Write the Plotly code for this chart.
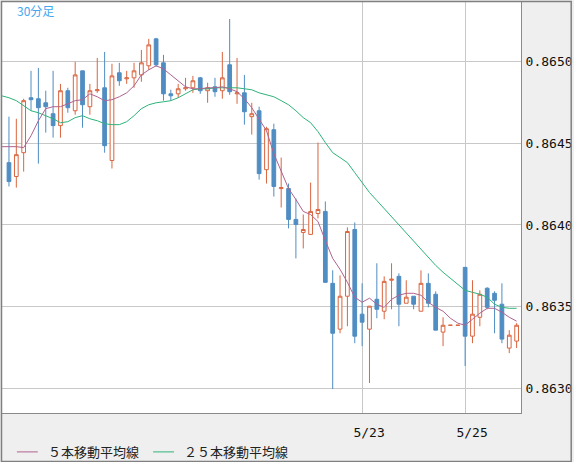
import plotly.graph_objects as go

# bar index (0 = first visible 30-minute bar)
bars = list(range(70))
ma_bars = list(range(-1, 70))

opens = [0.864382, 0.864297, 0.864443, 0.864780, 0.864774, 0.864749, 0.864682, 0.864609, 0.864823, 0.864700,
         0.864945, 0.864725, 0.864823, 0.864841, 0.864395, 0.864933, 0.864896, 0.864902, 0.864920, 0.864976,
         0.865141, 0.864994, 0.864804, 0.864804, 0.864835, 0.864841, 0.864902, 0.864823, 0.864847, 0.864823,
         0.864982, 0.864804, 0.864810, 0.864664, 0.864700, 0.864339, 0.864584, 0.864223, 0.864223, 0.864034,
         0.863954, 0.863942, 0.864070, 0.864083, 0.863642, 0.863361, 0.863563, 0.863972, 0.863453, 0.863361,
         0.863544, 0.863471, 0.863661, 0.863685, 0.863520, 0.863563, 0.863471, 0.863642, 0.863575, 0.863343,
         0.863385, 0.863385, 0.863740, 0.863318, 0.863434, 0.863612, 0.863581, 0.863514, 0.863245, 0.863288]

highs = [0.864664, 0.864651, 0.864774, 0.864945, 0.864963, 0.864823, 0.864945, 0.864865, 0.864841, 0.865000,
         0.864945, 0.864865, 0.865024, 0.865061, 0.864988, 0.864994, 0.864945, 0.864994, 0.865073, 0.865141,
         0.865147, 0.865043, 0.864829, 0.864865, 0.864902, 0.864914, 0.864908, 0.864872, 0.864902, 0.865061,
         0.865263, 0.865024, 0.864920, 0.864749, 0.864725, 0.864602, 0.864621, 0.864413, 0.864254, 0.864162,
         0.864064, 0.864260, 0.864505, 0.864144, 0.863722, 0.863691, 0.863985, 0.864015, 0.863642, 0.863502,
         0.863765, 0.863685, 0.863765, 0.863703, 0.863661, 0.863563, 0.863722, 0.863703, 0.863593, 0.863434,
         0.863385, 0.863385, 0.863740, 0.863661, 0.863599, 0.863618, 0.863593, 0.863642, 0.863355, 0.863398]

lows = [0.864236, 0.864229, 0.864327, 0.864700, 0.864376, 0.864566, 0.864535, 0.864535, 0.864688, 0.864676,
        0.864596, 0.864676, 0.864810, 0.864443, 0.864346, 0.864853, 0.864865, 0.864841, 0.864878, 0.864951,
        0.864969, 0.864762, 0.864762, 0.864780, 0.864823, 0.864810, 0.864804, 0.864749, 0.864786, 0.864774,
        0.864798, 0.864743, 0.864615, 0.864554, 0.864278, 0.864254, 0.864174, 0.864107, 0.863979, 0.863795,
        0.863856, 0.863942, 0.864040, 0.863648, 0.862994, 0.863336, 0.863379, 0.863275, 0.863257, 0.863031,
        0.863428, 0.863422, 0.863483, 0.863379, 0.863520, 0.863483, 0.863471, 0.863495, 0.863355, 0.863257,
        0.863385, 0.863385, 0.863135, 0.863275, 0.863379, 0.863483, 0.863336, 0.863275, 0.863214, 0.863245]

closes = [0.864266, 0.864431, 0.864762, 0.864768, 0.864719, 0.864725, 0.864609, 0.864823, 0.864719, 0.864920,
          0.864737, 0.864823, 0.864829, 0.864486, 0.864914, 0.864884, 0.864902, 0.864945, 0.864994, 0.865104,
          0.864982, 0.864804, 0.864792, 0.864835, 0.864841, 0.864884, 0.864823, 0.864841, 0.864817, 0.864902,
          0.864817, 0.864810, 0.864694, 0.864682, 0.864315, 0.864590, 0.864236, 0.864229, 0.864034, 0.864003,
          0.863972, 0.864083, 0.864095, 0.863648, 0.863336, 0.863563, 0.863960, 0.863318, 0.863404, 0.863502,
          0.863483, 0.863654, 0.863667, 0.863514, 0.863557, 0.863514, 0.863642, 0.863520, 0.863355, 0.863385,
          0.863385, 0.863385, 0.863318, 0.863453, 0.863575, 0.863495, 0.863538, 0.863300, 0.863324, 0.863385]

ma5 = [0.864480, 0.864480, 0.864480, 0.864474, 0.864547, 0.864639, 0.864713, 0.864725, 0.864725, 0.864743, 0.864762,
       0.864768, 0.864804, 0.864786, 0.864762, 0.864768, 0.864786, 0.864810, 0.864853, 0.864920, 0.864951,
       0.864976, 0.864957, 0.864920, 0.864884, 0.864847, 0.864835, 0.864835, 0.864841, 0.864841, 0.864847,
       0.864835, 0.864817, 0.864774, 0.864719, 0.864645, 0.864578, 0.864437, 0.864327, 0.864223, 0.864156,
       0.864083, 0.864064, 0.864021, 0.863905, 0.863795, 0.863728, 0.863648, 0.863557, 0.863526, 0.863551,
       0.863514, 0.863495, 0.863544, 0.863569, 0.863581, 0.863581, 0.863569, 0.863526, 0.863495, 0.863471,
       0.863428, 0.863398, 0.863385, 0.863422, 0.863459, 0.863489, 0.863489, 0.863465, 0.863434, 0.863410]

ma25 = [0.864792, 0.864780, 0.864762, 0.864731, 0.864700, 0.864688, 0.864670, 0.864651, 0.864627, 0.864633, 0.864658,
        0.864670, 0.864651, 0.864639, 0.864621, 0.864615, 0.864615, 0.864633, 0.864670, 0.864713, 0.864737,
        0.864749, 0.864755, 0.864762, 0.864780, 0.864804, 0.864829, 0.864835, 0.864835, 0.864841, 0.864841,
        0.864841, 0.864841, 0.864835, 0.864829, 0.864810, 0.864798, 0.864786, 0.864762, 0.864737, 0.864700,
        0.864658, 0.864627, 0.864572, 0.864505, 0.864443, 0.864413, 0.864382, 0.864321, 0.864260, 0.864199,
        0.864150, 0.864101, 0.864052, 0.863997, 0.863954, 0.863899, 0.863850, 0.863801, 0.863752, 0.863710,
        0.863673, 0.863636, 0.863599, 0.863587, 0.863575, 0.863557, 0.863514, 0.863495, 0.863489, 0.863489]

date_ticks = [48, 62]
date_labels = ["5/23", "5/25"]
price_ticks = [0.8630, 0.8635, 0.8640, 0.8645, 0.8650]
price_labels = ["0.8630", "0.8635", "0.8640", "0.8645", "0.8650"]

UP = "#d9653f"
DOWN = "#4f8dc2"
PINK = "#b0628f"
GREEN = "#2eb37a"

W, H = 574, 462
ML, MR, MT, MB = 1, 51, 1, 49
PW, PH = W - ML - MR, H - MT - MB


def px_x(x):
    return (x - ML) / PW


def px_y(y):
    return (H - MB - y) / PH


fig = go.Figure()

fig.add_trace(
    go.Candlestick(
        x=bars,
        open=opens,
        high=highs,
        low=lows,
        close=closes,
        increasing=dict(line=dict(color=UP, width=1), fillcolor="white"),
        decreasing=dict(line=dict(color=DOWN, width=1), fillcolor=DOWN),
        whiskerwidth=0,
        hoverinfo="skip",
        showlegend=False,
    )
)

fig.add_trace(
    go.Scatter(x=ma_bars, y=ma25, mode="lines", line=dict(color=GREEN, width=1),
               hoverinfo="skip", showlegend=False)
)
fig.add_trace(
    go.Scatter(x=ma_bars, y=ma5, mode="lines", line=dict(color=PINK, width=1),
               hoverinfo="skip", showlegend=False)
)

# legend drawn by hand at the bottom
legend_items = [("５本移動平均線", PINK, 16, 37, 45), ("２５本移動平均線", GREEN, 153, 174, 182)]
shapes = []
annotations = []
for name, color, x0, x1, tx in legend_items:
    shapes.append(dict(type="line", xref="paper", yref="paper",
                       x0=px_x(x0), x1=px_x(x1), y0=px_y(452), y1=px_y(452),
                       line=dict(color=color, width=1)))
    annotations.append(dict(text=name, xref="paper", yref="paper", x=px_x(tx), y=px_y(452),
                            xanchor="left", yanchor="middle", showarrow=False,
                            font=dict(family="Noto Sans CJK JP", size=13, color="#222")))

annotations.append(dict(text="30分足", xref="paper", yref="paper", x=px_x(14), y=px_y(10),
                        xanchor="left", yanchor="middle", showarrow=False,
                        font=dict(family="Noto Sans CJK JP", size=12, color="#3fa8ee")))

# outer frame
shapes.append(dict(type="rect", xref="paper", yref="paper",
                   x0=px_x(0.5), x1=px_x(W - 0.5), y0=px_y(H - 0.5), y1=px_y(0.5),
                   line=dict(color="#808080", width=1.5), layer="above"))

fig.update_layout(
    width=W,
    height=H,
    margin=dict(l=ML, r=MR, t=MT, b=MB, pad=0),
    paper_bgcolor="#efefef",
    plot_bgcolor="white",
    boxgap=0.28,
    shapes=shapes,
    annotations=annotations,
    font=dict(family="DejaVu Sans Mono", size=13, color="#111"),
    xaxis=dict(
        range=[-0.946, 69.595],
        tickvals=date_ticks,
        ticktext=date_labels,
        ticks="outside",
        ticklen=7,
        tickcolor="rgba(0,0,0,0)",
        ticklabelshift=7,
        showgrid=True,
        gridcolor="#c8c8c8",
        gridwidth=1,
        zeroline=False,
        showline=True,
        linecolor="#8a8a8a",
        linewidth=1,
        mirror=True,
        rangeslider=dict(visible=False),
        fixedrange=True,
    ),
    yaxis=dict(
        side="right",
        range=[0.862847, 0.865367],
        tickvals=price_ticks,
        ticktext=price_labels,
        ticks="outside",
        ticklen=1,
        tickcolor="rgba(0,0,0,0)",
        showgrid=True,
        gridcolor="#c8c8c8",
        gridwidth=1,
        zeroline=False,
        showline=True,
        linecolor="#8a8a8a",
        linewidth=1,
        mirror=True,
        fixedrange=True,
    ),
)

fig.write_html(
    "out.html",
    config={"displayModeBar": False},
    post_script="document.body.style.margin='0';document.body.style.overflow='hidden';",
)
